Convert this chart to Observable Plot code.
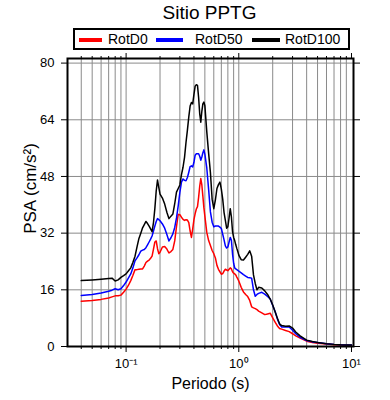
<!DOCTYPE html>
<html><head><meta charset="utf-8">
<script src="https://cdn.jsdelivr.net/npm/d3@7"></script>
<script src="https://cdn.jsdelivr.net/npm/@observablehq/plot@0.6"></script>
<style>
body{margin:0;background:#fff;font-family:"Liberation Sans",Arial,Helvetica,sans-serif;color:#000;}
#wrap{position:relative;width:390px;height:400px;}
#title{position:absolute;left:0;top:0;width:419px;height:26px;line-height:26px;text-align:center;font-size:19px;}
#legend{position:absolute;left:73px;top:28px;width:277px;height:22px;box-sizing:border-box;border:2px solid #000;}
.sw{position:absolute;height:4px;top:8px;}
.lt{position:absolute;top:0;line-height:18px;font-size:14px;}
#chart{position:absolute;left:0;top:52px;}
</style></head><body>
<div id="wrap">
  <div id="title"></div>
  <div id="legend"></div>
  <div id="chart"></div>
</div>
<script>
const titleText = "Sitio PPTG";
const xLabel = "Periodo (s)";
const yLabel = "PSA (cm/s²)";
const seriesNames = ["RotD0", "RotD50", "RotD100"];
const seriesColors = ["#ff0000", "#0000ff", "#000000"];
const yTicks = [0, 16, 32, 48, 64, 80];
const xMajorTicks = [0.1, 1, 10];
const xMajorLabels = ["10⁻¹", "10⁰", "10¹"];
const xMinorTicks = [0.04, 0.05, 0.06, 0.07, 0.08, 0.09, 0.2, 0.3, 0.4, 0.5, 0.6, 0.7, 0.8, 0.9, 2, 3, 4, 5, 6, 7, 8, 9];

const periods = [0.04,0.05,0.06,0.07,0.075,0.08,0.085,0.09,0.095,0.1,0.105,0.11,0.115,0.12,0.125,0.13,0.135,0.14,0.145,0.15,0.155,0.16,0.165,0.17,0.175,0.18,0.185,0.19,0.195,0.2,0.21,0.22,0.23,0.24,0.25,0.26,0.27,0.28,0.29,0.3,0.31,0.32,0.33,0.34,0.35,0.36,0.37,0.38,0.39,0.4,0.41,0.42,0.43,0.44,0.45,0.46,0.47,0.48,0.49,0.5,0.52,0.54,0.56,0.58,0.6,0.62,0.64,0.66,0.68,0.7,0.72,0.74,0.76,0.78,0.8,0.82,0.84,0.86,0.88,0.9,0.92,0.94,0.96,0.98,1.0,1.05,1.1,1.15,1.2,1.25,1.3,1.35,1.4,1.45,1.5,1.6,1.7,1.8,1.9,2.0,2.1,2.2,2.3,2.4,2.6,2.8,3.0,3.2,3.5,4.0,4.5,5,6,7,8,9,10];

const rotD0 = [12.8,13.0,13.3,13.7,14.0,14.3,14.3,14.5,15.3,16.2,17.3,18.6,20.1,21.7,21.7,21.8,21.9,21.9,22.7,23.7,24.1,24.4,24.9,25.5,27.5,29.5,29.8,27.6,26.2,26.6,28.1,28.2,27.5,26.4,26.8,27.4,29.8,33.8,37.3,37.2,36.5,35.9,35.6,35.8,35.7,35.0,32.6,30.8,33.2,35.8,37.5,38.8,39.5,42.1,45.2,47.4,45.6,42.4,39.2,36.8,32.2,29.9,28.5,27.1,26.2,25.0,22.9,21.8,21.1,20.4,20.6,21.3,21.8,21.6,21.4,21.8,22.2,21.9,21.1,20.7,20.5,20.2,19.6,19.1,18.5,16.7,15.4,14.7,14.1,13.0,11.2,10.9,10.7,10.4,10.0,9.5,9.0,9.2,9.4,8.1,6.9,5.8,5.1,4.9,4.5,4.2,3.6,3.0,2.4,1.5,1.1,0.9,0.7,0.5,0.4,0.35,0.3];

const rotD50 = [14.4,14.7,15.1,15.6,15.9,16.3,16.0,16.3,17.2,18.2,19.4,20.5,22.2,24.2,25.0,25.9,26.9,27.2,27.4,27.9,28.7,29.5,30.3,31.2,32.6,34.0,35.3,36.1,35.8,35.5,34.6,33.4,31.6,29.8,30.7,31.8,33.6,36.3,39.7,43.5,46.4,47.3,46.9,46.8,47.7,49.2,50.8,51.0,50.7,52.0,54.0,54.4,54.4,54.4,53.7,52.6,53.5,54.7,55.5,54.3,50.4,44.3,38.0,35.1,33.8,34.0,34.0,34.0,33.7,33.3,31.7,30.1,28.4,27.8,28.1,29.5,30.8,30.0,26.1,23.5,22.2,21.9,21.7,21.5,21.3,20.8,20.3,19.9,19.5,19.4,19.3,16.0,14.2,14.7,15.0,15.3,14.8,14.1,13.4,11.6,9.9,7.8,6.2,5.5,5.5,5.5,4.6,3.6,2.6,1.7,1.3,1.1,0.8,0.6,0.5,0.45,0.4];

const rotD100 = [18.6,18.8,19.0,19.2,19.3,18.5,18.8,19.5,20.0,20.5,21.4,22.2,23.8,25.5,28.1,30.5,32.0,33.5,34.4,35.3,34.7,34.0,33.2,32.4,35.0,39.0,43.9,47.0,44.9,43.0,41.9,40.2,37.9,36.1,36.8,37.4,40.3,43.6,44.6,45.6,48.5,50.6,53.4,57.6,61.1,64.8,67.9,68.9,68.5,71.2,73.5,73.9,73.7,70.3,65.7,63.3,66.4,68.5,69.0,68.0,60.6,54.5,49.1,41.6,38.9,41.4,44.6,45.7,46.4,44.4,41.6,37.8,35.6,33.4,33.8,36.3,38.9,36.6,32.4,30.8,29.9,28.7,27.7,26.8,25.8,24.5,24.4,25.2,26.0,27.0,25.5,20.2,17.8,16.0,16.7,16.5,15.7,14.7,13.4,11.7,9.8,8.0,6.4,5.9,5.7,5.8,5.2,4.1,3.0,1.8,1.4,1.1,0.8,0.6,0.5,0.45,0.4];

const seriesValues = [rotD0, rotD50, rotD100];
const data = [];
seriesNames.forEach((name, k) => {
  periods.forEach((p, i) => data.push({period: p, value: seriesValues[k][i], series: name}));
});

// Title and legend (HTML, above the SVG)
document.getElementById("title").textContent = titleText;
const legend = document.getElementById("legend");
const legendLayout = [
  {sw: [4, 27], tx: 33},
  {sw: [81, 108], tx: 120},
  {sw: [177, 205], tx: 210}
];
seriesNames.forEach((name, k) => {
  const sw = document.createElement("div");
  sw.className = "sw";
  sw.style.left = legendLayout[k].sw[0] + "px";
  sw.style.width = (legendLayout[k].sw[1] - legendLayout[k].sw[0]) + "px";
  sw.style.background = seriesColors[k];
  legend.appendChild(sw);
  const t = document.createElement("div");
  t.className = "lt";
  t.style.left = legendLayout[k].tx + "px";
  t.textContent = name;
  legend.appendChild(t);
});

const fontFamily = "Liberation Sans, Arial, Helvetica, sans-serif";
const chart = Plot.plot({
  width: 390,
  height: 348,
  marginTop: 6,
  marginBottom: 54,
  marginLeft: 67,
  marginRight: 37,
  style: {fontFamily, fontSize: "13px", background: "#fff", color: "#000", overflow: "visible"},
  x: {type: "log", domain: [0.0302, 10.42]},
  y: {domain: [0, 81.3]},
  color: {domain: seriesNames, range: seriesColors},
  marks: [
    Plot.gridX(xMinorTicks.concat([0.1, 1]), {stroke: "#8a8a8a", strokeOpacity: 1, strokeWidth: 1}),
    Plot.gridY(yTicks.slice(1), {stroke: "#8a8a8a", strokeOpacity: 1, strokeWidth: 1}),
    Plot.lineY(data, {x: "period", y: "value", z: "series", stroke: "series", strokeWidth: 1.5}),
    Plot.frame({stroke: "#000", strokeWidth: 2}),
    Plot.axisX(xMinorTicks, {anchor: "bottom", tickSize: 3, text: null, label: null}),
    Plot.axisX(xMinorTicks, {anchor: "top", tickSize: 3, text: null, label: null}),
    Plot.axisX(xMajorTicks, {anchor: "bottom", tickSize: 6, tickPadding: 6, fontSize: 13,
      tickFormat: (d) => xMajorLabels[xMajorTicks.indexOf(d)], label: null}),
    Plot.axisX(xMajorTicks, {anchor: "top", tickSize: 6, text: null, label: null}),
    Plot.axisY(yTicks, {anchor: "left", tickSize: 6, tickPadding: 7, fontSize: 13, label: null}),
    Plot.axisY(yTicks, {anchor: "right", tickSize: 6, text: null, label: null}),
    Plot.text([xLabel], {frameAnchor: "bottom", dy: 37, fontSize: 16, textAnchor: "middle", lineAnchor: "middle"}),
    Plot.text([yLabel], {frameAnchor: "left", dx: -37, dy: -14, rotate: -90, fontSize: 17, textAnchor: "middle", lineAnchor: "middle"})
  ]
});
document.getElementById("chart").appendChild(chart);
</script>
</body></html>
